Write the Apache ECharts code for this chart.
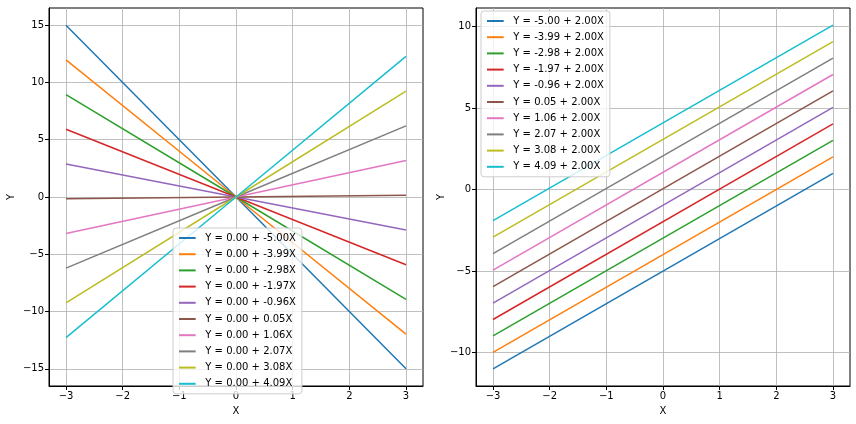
<!DOCTYPE html>
<html><head><meta charset="utf-8">
<script src="https://cdn.jsdelivr.net/npm/echarts@6/dist/echarts.min.js"></script>
<style>html,body{margin:0;padding:0;background:#fff}#c{width:856px;height:424px}</style>
</head><body><div id="c"></div>
<script>
const xs = [-3, 3];
const leftNames = ['Y = 0.00 + -5.00X','Y = 0.00 + -3.99X','Y = 0.00 + -2.98X','Y = 0.00 + -1.97X','Y = 0.00 + -0.96X','Y = 0.00 + 0.05X','Y = 0.00 + 1.06X','Y = 0.00 + 2.07X','Y = 0.00 + 3.08X','Y = 0.00 + 4.09X'];
const leftStart = [15, 11.97, 8.94, 5.91, 2.88, -0.15, -3.18, -6.21, -9.24, -12.27];
const leftEnd = [-15, -11.97, -8.94, -5.91, -2.88, 0.15, 3.18, 6.21, 9.24, 12.27];
const rightNames = ['Y = -5.00 + 2.00X','Y = -3.99 + 2.00X','Y = -2.98 + 2.00X','Y = -1.97 + 2.00X','Y = -0.96 + 2.00X','Y = 0.05 + 2.00X','Y = 1.06 + 2.00X','Y = 2.07 + 2.00X','Y = 3.08 + 2.00X','Y = 4.09 + 2.00X'];
const rightStart = [-11, -9.99, -8.98, -7.97, -6.96, -5.95, -4.94, -3.93, -2.92, -1.91];
const rightEnd = [1, 2.01, 3.02, 4.03, 5.04, 6.05, 7.06, 8.07, 9.08, 10.09];
const xTicks = [-3,-2,-1,0,1,2,3];
const leftYTicks = [-15,-10,-5,0,5,10,15];
const rightYTicks = [-10,-5,0,5,10];
const colors = ['#1f77b4','#ff7f0e','#2ca02c','#d62728','#9467bd','#8c564b','#e377c2','#7f7f7f','#bcbd22','#17becf'];

const fmt = v => (v < 0 ? '\u2212' + (-v) : '' + v);
const font = 'DejaVu Sans';
function xAxis(gi){return {type:'value',gridIndex:gi,min:-3.3,max:3.3,name:'X',nameLocation:'middle',nameGap:20,
  nameTextStyle:{color:'#000',fontFamily:font,fontSize:10},
  axisLine:{onZero:false,lineStyle:{color:'#000'}},axisTick:{customValues:xTicks,length:4,lineStyle:{color:'#000'}},
  axisLabel:{customValues:xTicks,formatter:fmt,color:'#000',fontFamily:font,fontSize:10,margin:5},
  splitLine:{show:true,lineStyle:{color:'#b0b0b0',width:0.8}}};}
function yAxis(gi,mn,mx,t){return {type:'value',gridIndex:gi,min:mn,max:mx,name:'Y',nameLocation:'middle',nameGap:gi?28:33,
  nameTextStyle:{color:'#000',fontFamily:font,fontSize:10},
  axisLine:{show:true,onZero:false,lineStyle:{color:'#000'}},axisTick:{show:true,customValues:t,length:4,lineStyle:{color:'#000'}},
  axisLabel:{customValues:t,formatter:fmt,color:'#000',fontFamily:font,fontSize:10,margin:5},
  splitLine:{show:true,lineStyle:{color:'#b0b0b0',width:0.8}}};}
const series = [];
leftNames.forEach((n,i)=>series.push({name:n,type:'line',xAxisIndex:0,yAxisIndex:0,showSymbol:false,symbol:'none',
  lineStyle:{width:1.5,color:colors[i]},itemStyle:{color:colors[i]},data:[[xs[0],leftStart[i]],[0,0],[xs[1],leftEnd[i]]]}));
rightNames.forEach((n,i)=>series.push({name:n,type:'line',xAxisIndex:1,yAxisIndex:1,showSymbol:false,symbol:'none',
  lineStyle:{width:1.5,color:colors[i]},itemStyle:{color:colors[i]},data:[[xs[0],rightStart[i]],[xs[1],rightEnd[i]]]}));
const legStyle = {orient:'vertical',icon:'path://M0,0L1,0L1,0.12L0,0.12Z',itemWidth:20,itemHeight:2,itemGap:6.2,
  textStyle:{fontFamily:font,fontSize:10,color:'#000',padding:[0,0,0,3]},backgroundColor:'rgba(255,255,255,0.8)',borderColor:'#ccc',borderWidth:1,borderRadius:3,padding:[5,6,5,6]};
const chart = echarts.init(document.getElementById('c'),null,{renderer:'canvas'});
chart.setOption({animation:false,color:colors,
  grid:[{left:49,top:8,width:374,height:378,show:true,borderColor:'#000',borderWidth:1},
        {left:476,top:8,width:374,height:378,show:true,borderColor:'#000',borderWidth:1}],
  xAxis:[xAxis(0),xAxis(1)],
  yAxis:[yAxis(0,-16.5,16.5,leftYTicks),yAxis(1,-12.05,11.14,rightYTicks)],
  legend:[Object.assign({data:leftNames,left:173,top:228},legStyle),Object.assign({data:rightNames,left:481,top:11},legStyle)],
  series});
</script></body></html>
